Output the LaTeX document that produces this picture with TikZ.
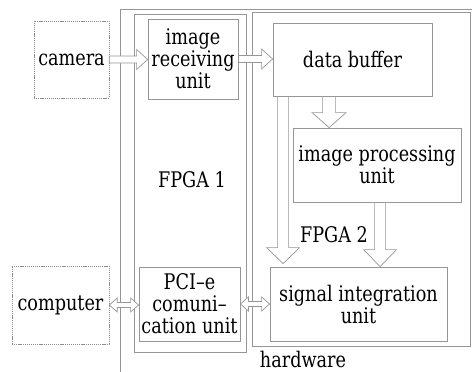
\documentclass[tikz,border=0pt]{standalone}
\usepackage{fontspec}
\setmainfont{DejaVu Serif}[FakeStretch=0.82]
\usetikzlibrary{calc}
\definecolor{lg}{RGB}{150,150,150}
\definecolor{dg}{RGB}{140,140,140}
\tikzset{
  box/.style={draw=lg, line width=0.8pt, inner sep=0pt, align=center, anchor=center},
  dbox/.style={box, draw=dg, line width=0.6pt, dash pattern=on 1.2pt off 0.9pt},
  lbl/.style={inner sep=0pt, anchor=center},
  blk/.style={draw=lg, line width=0.7pt, fill=white, line join=miter},
}
\newcommand\harr[5]{\draw[blk] let \p1=(#1), \p2=(#2) in (\x1,{\y1+#3pt}) -- ({\x2-#5pt},{\y1+#3pt}) -- ({\x2-#5pt},{\y1+#4pt}) -- (\x2,\y1) -- ({\x2-#5pt},{\y1-#4pt}) -- ({\x2-#5pt},{\y1-#3pt}) -- (\x1,{\y1-#3pt}) -- cycle;}
\newcommand\dharr[5]{\draw[blk] let \p1=(#1), \p2=(#2) in (\x1,\y1) -- ({\x1+#5pt},{\y1+#4pt}) -- ({\x1+#5pt},{\y1+#3pt}) -- ({\x2-#5pt},{\y1+#3pt}) -- ({\x2-#5pt},{\y1+#4pt}) -- (\x2,\y1) -- ({\x2-#5pt},{\y1-#4pt}) -- ({\x2-#5pt},{\y1-#3pt}) -- ({\x1+#5pt},{\y1-#3pt}) -- ({\x1+#5pt},{\y1-#4pt}) -- cycle;}
\newcommand\varr[5]{\draw[blk] let \p1=(#1), \p2=(#2) in ({\x1-#3pt},\y1) -- ({\x1-#3pt},{\y2+#5pt}) -- ({\x1-#4pt},{\y2+#5pt}) -- (\x1,\y2) -- ({\x1+#4pt},{\y2+#5pt}) -- ({\x1+#3pt},{\y2+#5pt}) -- ({\x1+#3pt},\y1) -- cycle;}
\begin{document}
\begin{tikzpicture}[x=1pt,y=-1pt,font=\fontsize{21.5}{22}\selectfont]
\useasboundingbox (0,0) rectangle (472,372);
% hardware outline (extends beyond picture)
\draw[lg, line width=0.8pt] (120,372) -- (120,9) -- (472,9);
\node[lbl] (hw) at (303,359) {hardware};
% FPGA boxes
\node[box, minimum width=112, minimum height=338] (f1) at (190,183) {};
\node[box, minimum width=218, minimum height=334] (f2) at (361,179) {};
\node[lbl] (f1l) at (192,180) {FPGA 1};
\node[lbl] (f2l) at (334,235) {FPGA 2};
% units
\node[dbox, minimum width=75, minimum height=77] (cam) at (71.5,59.5) {camera};
\node[dbox, minimum width=97, minimum height=78] (comp) at (60.5,305) {computer};
\node[box, minimum width=90, minimum height=80] (recv) at (193,59) {image\\receiving\\unit};
\node[box, minimum width=101, minimum height=74] (pci) at (189.5,304) {PCI--e\\comuni--\\cation unit};
\node[box, minimum width=159, minimum height=73] (buf) at (352.5,59.5) {data buffer};
\node[box, minimum width=168, minimum height=74] (proc) at (377,165) {image processing\\unit};
\node[box, minimum width=177, minimum height=74] (sig) at (358.5,304) {signal integration\\unit};
% connectors
\harr{cam.east}{recv.west}{3.5}{10}{11}
\harr{recv.east}{buf.west}{3.5}{10}{11}
\dharr{comp.east}{pci.west}{2.5}{7}{8}
\dharr{pci.east}{sig.west}{2.5}{7}{8}
\coordinate (b1) at ($(buf.south west)+(56.5,0)$);
\coordinate (b2) at ($(buf.south west)+(10.5,0)$);
\coordinate (p1) at ($(proc.south west)+(87.5,0)$);
\coordinate (s1) at ($(sig.north)+(0,-3)$);
\varr{b1}{proc.north}{6.5}{17}{15}
\varr{b2}{s1}{5.5}{16.5}{16}
\varr{p1}{sig.north}{5.5}{16.5}{17}
\end{tikzpicture}
\end{document}
